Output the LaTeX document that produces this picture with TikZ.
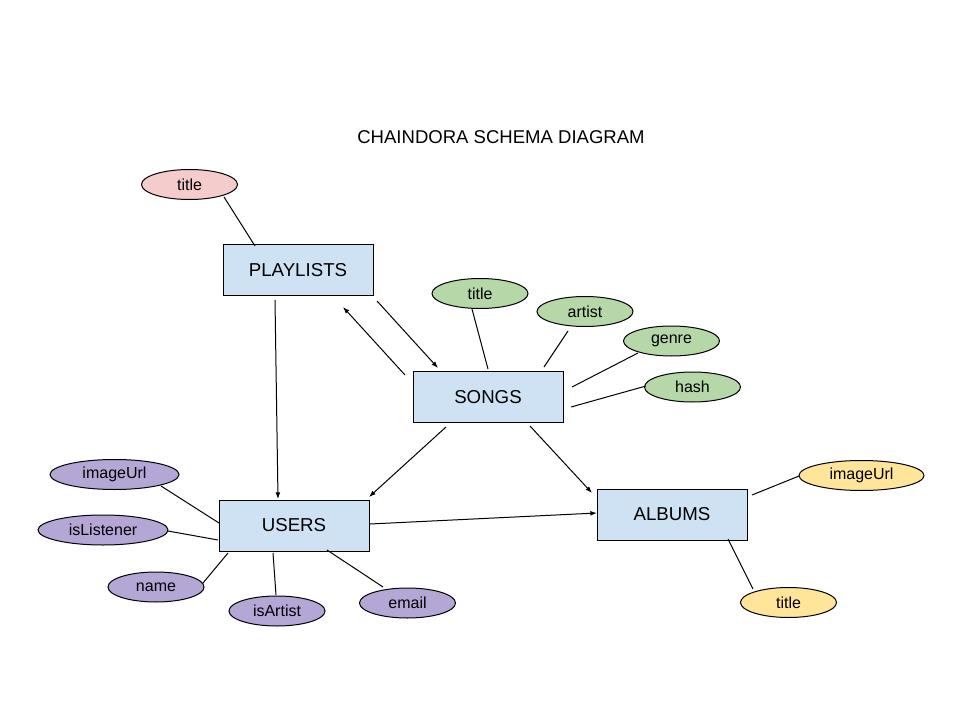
\documentclass[tikz,border=0pt]{standalone}
\usepackage{fontspec}
\setmainfont{Liberation Sans}
\usetikzlibrary{shapes.geometric,arrows.meta}
\definecolor{boxblue}{HTML}{CFE2F3}
\definecolor{attrpink}{HTML}{F4CCCC}
\definecolor{attrgreen}{HTML}{B6D7A8}
\definecolor{attrpurple}{HTML}{B4A7D6}
\definecolor{attryellow}{HTML}{FFE599}
\begin{document}
\begin{tikzpicture}[x=0.75pt,y=-0.75pt,
  entity/.style={draw=black, line width=0.75pt, fill=boxblue, rectangle,
    minimum width=112.5pt, minimum height=38.25pt, inner sep=0pt,
    font=\fontsize{14}{16}\selectfont},
  attr/.style={draw=black, line width=0.75pt, ellipse, minimum width=72pt,
    minimum height=22.5pt, inner sep=0pt, font=\fontsize{12}{14}\selectfont},
  conn/.style={draw=black, line width=0.75pt},
  arr/.style={conn, -{Latex[length=5pt,width=3.6pt]}}]
\useasboundingbox (0,0) rectangle (960,720);
\fill[white] (0,0) rectangle (960,720);

\node[font=\fontsize{13.9}{16}\selectfont] (heading) at (501,137) {CHAINDORA SCHEMA DIAGRAM};

% entities
\node[entity] (P) at (298,270.5) {PLAYLISTS};
\node[entity] (S) at (488,397) {SONGS};
\node[entity] (U) at (294,525.5) {USERS};
\node[entity] (A) at (672,514.5) {ALBUMS};

% attributes
\node[attr, fill=attrpink] (pt) at (189.5,184.5) {title};
\node[attr, fill=attrgreen] (st) at (480,293.5) {title};
\node[attr, fill=attrgreen] (sa) at (585,311.5) {artist};
\node[attr, fill=attrgreen] (sg) at (671.5,341) {genre};
\node[attr, fill=attrgreen] (sh) at (692.5,387) {hash};
\node[attr, fill=attrpurple, minimum width=96.75pt] (ui) at (114.5,474.5) {imageUrl};
\node[attr, fill=attrpurple, minimum width=97.5pt] (ul) at (103,530) {isListener};
\node[attr, fill=attrpurple] (un) at (156,587) {name};
\node[attr, fill=attrpurple] (ua) at (277,611) {isArtist};
\node[attr, fill=attrpurple] (ue) at (407.5,603) {email};
\node[attr, fill=attryellow, minimum width=93.75pt] (ai) at (861.5,475.5) {imageUrl};
\node[attr, fill=attryellow] (at) at (788.5,602.5) {title};

% relationship arrows
\draw[arr] ([shift={(-23,29.5)}]P.center) -- ([shift={(-16,-26.5)}]U.center);
\draw[arr] ([shift={(-83,-22)}]S.center) -- ([shift={(45,36.5)}]P.center);
\draw[arr] ([shift={(79,30.5)}]P.center) -- ([shift={(-50,-29)}]S.center);
\draw[arr] ([shift={(-42,30)}]S.center) -- ([shift={(75,-28.5)}]U.center);
\draw[arr] ([shift={(42,29)}]S.center) -- ([shift={(-80,-21.5)}]A.center);
\draw[arr] ([shift={(76,-1.5)}]U.center) -- ([shift={(-75,-1.5)}]A.center);

% attribute lines
\draw[conn] ([shift={(34.5,12.5)}]pt.center) -- ([shift={(-43,-24.5)}]P.center);
\draw[conn] ([shift={(-8,15.5)}]st.center) -- ([shift={(0,-28)}]S.center);
\draw[conn] ([shift={(-17,19.5)}]sa.center) -- ([shift={(56,-30)}]S.center);
\draw[conn] ([shift={(-33.5,12)}]sg.center) -- ([shift={(84,-10)}]S.center);
\draw[conn] ([shift={(-46.5,-1)}]sh.center) -- ([shift={(83,10)}]S.center);
\draw[conn] ([shift={(46.5,11.5)}]ui.center) -- ([shift={(-75,-2.5)}]U.center);
\draw[conn] ([shift={(65,1)}]ul.center) -- ([shift={(-76,14.5)}]U.center);
\draw[conn] ([shift={(47,-4)}]un.center) -- ([shift={(-66,27.5)}]U.center);
\draw[conn] ([shift={(-1,-16)}]ua.center) -- ([shift={(-21,27.5)}]U.center);
\draw[conn] ([shift={(-24.5,-16)}]ue.center) -- ([shift={(33,24.5)}]U.center);
\draw[conn] ([shift={(-62.5,0.5)}]ai.center) -- ([shift={(80,-19.5)}]A.center);
\draw[conn] ([shift={(-35.5,-13.5)}]at.center) -- ([shift={(56,24.5)}]A.center);
\end{tikzpicture}
\end{document}
